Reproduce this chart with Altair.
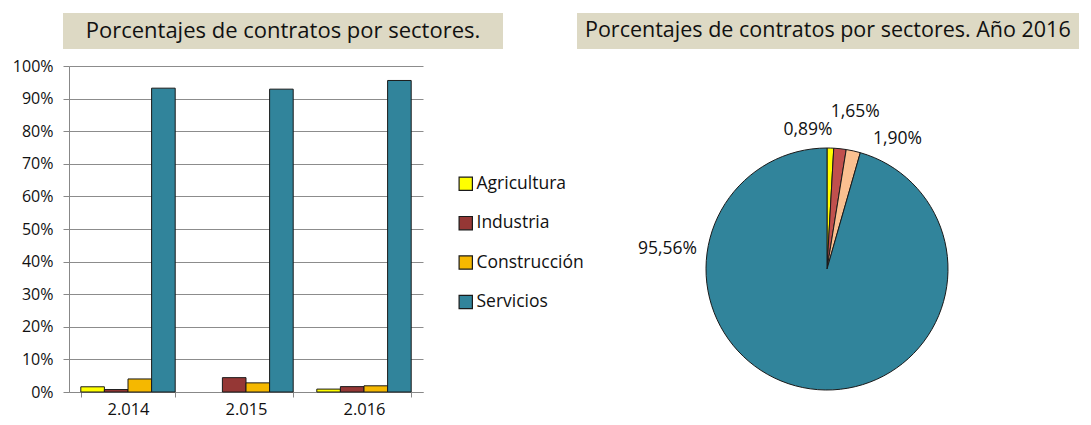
import altair as alt
import pandas as pd

FONT = "Open Sans"

years = ["2.014", "2.015", "2.016"]
sectors = ["Agricultura", "Industria", "Construcción", "Servicios"]
agricultura = [1.6, 0.0, 0.89]
industria = [0.75, 4.4, 1.65]
construccion = [4.0, 2.8, 1.90]
servicios = [93.2, 92.9, 95.56]

pie_values = [0.89, 1.65, 1.90, 95.56]
pie_labels = ["0,89%", "1,65%", "1,90%", "95,56%"]

bar_colors = ["#FFFF00", "#953735", "#F5B800", "#31849B"]
pie_colors = ["#FFFF00", "#C0504D", "#FAC090", "#31849B"]

title_left = "Porcentajes de contratos por sectores."
title_right = "Porcentajes de contratos por sectores. Año 2016"

series = [agricultura, industria, construccion, servicios]
rows = []
for si, s in enumerate(sectors):
    for yi, y in enumerate(years):
        rows.append({"year": y, "sector": s, "value": series[si][yi]})
bar_df = pd.DataFrame(rows)

pie_df = pd.DataFrame({"sector": sectors, "value": pie_values,
                       "label": pie_labels, "idx": list(range(len(sectors)))})

deco = alt.Data(values=[{"k": 0}])
no_border = alt.ViewConfig(stroke="transparent", strokeWidth=0, fill="transparent")

# ---- left: bar chart ----
rect_l = alt.Chart(deco).mark_rect(color="#DDD9C4").encode(
    x=alt.value(-6), x2=alt.value(434), y=alt.value(-53), y2=alt.value(-17))
text_l = alt.Chart(deco).mark_text(font=FONT, fontSize=22, align="center",
                                   baseline="middle", color="#111").encode(
    text=alt.value(title_left), x=alt.value(214), y=alt.value(-35))

bars = alt.Chart(bar_df).transform_filter(alt.datum.value > 0).mark_bar(
    stroke="#1a1a1a", strokeWidth=1).encode(
    x=alt.X("year:N", sort=years, title=None,
            scale=alt.Scale(paddingInner=0.2, paddingOuter=0.1),
            axis=alt.Axis(labelAngle=0, tickBand="extent", grid=False,
                          domainColor="#888", tickColor="#888", tickSize=5,
                          labelFontSize=16.5, labelPadding=4, labelColor="#111",
                          labelFont=FONT)),
    xOffset=alt.XOffset("sector:N", sort=sectors,
                        scale=alt.Scale(domain=sectors, paddingInner=0, paddingOuter=0)),
    y=alt.Y("value:Q", title=None, scale=alt.Scale(domain=[0, 100], nice=False),
            axis=alt.Axis(values=list(range(0, 101, 10)),
                          labelExpr="datum.value + '%'",
                          gridColor="#8c8c8c", domainColor="#888",
                          tickColor="#888", tickSize=6, labelPadding=10,
                          labelFontSize=16, labelColor="#111", labelFont=FONT)),
    color=alt.Color("sector:N", sort=sectors,
                    scale=alt.Scale(domain=sectors, range=bar_colors),
                    legend=alt.Legend(title=None, orient="none", legendX=388,
                                      legendY=109, symbolType="square",
                                      symbolSize=177, symbolStrokeColor="#1a1a1a",
                                      symbolStrokeWidth=1.2, symbolOpacity=1,
                                      labelFontSize=17.5, labelFont=FONT,
                                      labelColor="#111", rowPadding=20.4,
                                      labelOffset=2, labelLimit=300)),
)

left = alt.layer(rect_l, text_l, bars).properties(width=354, height=326, view=no_border)

# ---- right: pie chart ----
CX, CY = 250, 203
rect_r = alt.Chart(deco).mark_rect(color="#DDD9C4").encode(
    x=alt.value(0), x2=alt.value(502), y=alt.value(-53), y2=alt.value(-17))
text_r = alt.Chart(deco).mark_text(font=FONT, fontSize=21.5, align="left",
                                   baseline="middle", color="#111").encode(
    text=alt.value(title_right), x=alt.value(8), y=alt.value(-35))

pie_base = alt.Chart(pie_df).transform_stack(
    stack="value", groupby=[], as_=["v0", "v1"],
    sort=[alt.SortField("idx", order="ascending")]
).transform_calculate(mid="(datum.v0 + datum.v1) / 2")

arc = pie_base.mark_arc(outerRadius=121, stroke="#1a1a1a", strokeWidth=1).encode(
    theta=alt.Theta("v0:Q", scale=alt.Scale(domain=[0, 100])),
    theta2="v1:Q",
    color=alt.Color("sector:N", scale=alt.Scale(domain=sectors, range=pie_colors),
                    legend=None),
    x=alt.value(CX), y=alt.value(CY))

label_offsets = [(-23, 1, 140), (12, -8, 150), (40, 7, 140), (-140, -159, 140)]
label_layers = []
for s, (dx, dy, r) in zip(sectors, label_offsets):
    label_layers.append(
        pie_base.transform_filter(alt.datum.sector == s).mark_text(
            radius=r, dx=dx, dy=dy, fontSize=17.5, font=FONT, color="#111",
            align="center", baseline="middle").encode(
            theta=alt.Theta("mid:Q", scale=alt.Scale(domain=[0, 100])),
            text="label:N", x=alt.value(CX), y=alt.value(CY)))

right = alt.layer(rect_r, text_r, arc, *label_layers).properties(
    width=498, height=326, view=no_border)

chart = alt.hconcat(left, right, spacing=154, bounds="flush").resolve_scale(
    color="independent"
).properties(
    padding={"left": 4, "top": 5, "right": 0, "bottom": 0}
).configure_view(stroke="transparent", strokeWidth=0, fill="transparent").configure(font=FONT)

chart.save("out.html", embed_options={"renderer": "svg", "actions": False})
